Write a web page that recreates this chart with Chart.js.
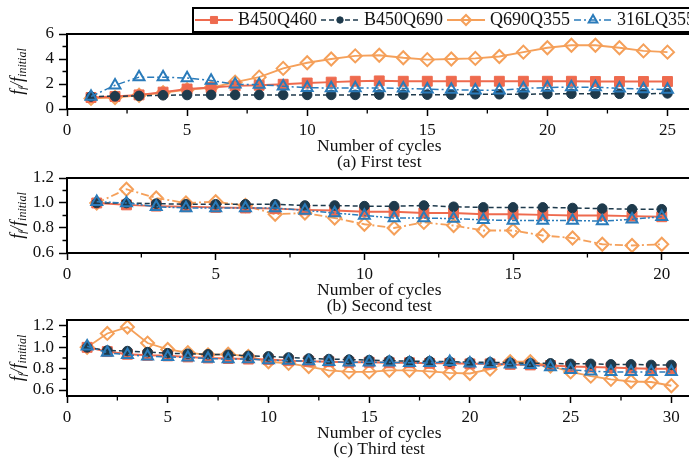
<!DOCTYPE html>
<html>
<head>
<meta charset="utf-8">
<script src="https://cdn.jsdelivr.net/npm/chart.js@4/dist/chart.umd.min.js"></script>
<style>
  html, body { margin: 0; padding: 0; background: #fff; overflow: hidden; width: 689px; height: 463px; }
  canvas { position: absolute; left: 0; }
</style>
</head>
<body>
<canvas id="c1" width="700" height="172" style="top:0px;width:700px;height:172px"></canvas>
<canvas id="c2" width="700" height="154" style="top:162px;width:700px;height:154px"></canvas>
<canvas id="c3" width="700" height="155" style="top:304px;width:700px;height:155px"></canvas>
<script>
// series names
const seriesNames = ['B450Q460', 'B450Q690', 'Q690Q355', '316LQ355'];

// (a) First test
const cycles1 = [1,2,3,4,5,6,7,8,9,10,11,12,13,14,15,16,17,18,19,20,21,22,23,24,25];
const first_B450Q460 = [0.92,1.0,1.13,1.35,1.6,1.72,1.85,1.9,1.98,2.08,2.15,2.22,2.25,2.22,2.22,2.22,2.22,2.22,2.22,2.22,2.22,2.2,2.2,2.2,2.2];
const first_B450Q690 = [1.0,1.02,1.05,1.1,1.12,1.13,1.13,1.13,1.13,1.13,1.13,1.13,1.15,1.15,1.15,1.15,1.18,1.18,1.18,1.2,1.22,1.22,1.22,1.22,1.25];
const first_Q690Q355 = [0.85,0.92,1.1,1.3,1.55,1.7,2.15,2.55,3.25,3.7,4.0,4.25,4.3,4.1,3.95,4.0,4.05,4.2,4.55,4.9,5.1,5.1,4.9,4.65,4.55];
const first_316LQ355 = [1.0,1.9,2.55,2.55,2.48,2.28,1.98,1.95,1.82,1.7,1.68,1.68,1.68,1.65,1.58,1.55,1.5,1.5,1.65,1.72,1.75,1.75,1.65,1.6,1.55];

// (b) Second test
const cycles2 = [1,2,3,4,5,6,7,8,9,10,11,12,13,14,15,16,17,18,19,20];
const second_B450Q460 = [1.0,0.985,0.975,0.97,0.965,0.96,0.955,0.945,0.94,0.93,0.93,0.92,0.92,0.91,0.91,0.905,0.9,0.9,0.895,0.89];
const second_B450Q690 = [1.0,1.0,0.995,0.99,0.99,0.99,0.99,0.98,0.98,0.975,0.975,0.98,0.97,0.965,0.965,0.965,0.96,0.955,0.95,0.95];
const second_Q690Q355 = [1.0,1.11,1.04,1.0,1.01,0.98,0.91,0.92,0.88,0.83,0.8,0.845,0.82,0.78,0.78,0.74,0.72,0.67,0.66,0.67];
const second_316LQ355 = [1.01,1.0,0.97,0.96,0.96,0.96,0.96,0.94,0.92,0.9,0.88,0.88,0.875,0.865,0.86,0.86,0.86,0.855,0.87,0.89];

// (c) Third test
const cycles3 = [1,2,3,4,5,6,7,8,9,10,11,12,13,14,15,16,17,18,19,20,21,22,23,24,25,26,27,28,29,30];
const third_B450Q460 = [1.0,0.96,0.935,0.925,0.92,0.91,0.9,0.895,0.89,0.885,0.875,0.87,0.865,0.86,0.86,0.855,0.855,0.85,0.85,0.845,0.845,0.84,0.835,0.83,0.82,0.815,0.81,0.805,0.8,0.8];
const third_B450Q690 = [1.0,0.97,0.965,0.955,0.945,0.94,0.935,0.93,0.92,0.915,0.905,0.895,0.89,0.885,0.88,0.875,0.87,0.87,0.865,0.86,0.86,0.855,0.85,0.85,0.845,0.845,0.84,0.84,0.835,0.835];
const third_Q690Q355 = [1.0,1.13,1.19,1.04,0.98,0.95,0.93,0.935,0.915,0.865,0.85,0.82,0.785,0.77,0.77,0.785,0.785,0.775,0.76,0.755,0.795,0.865,0.865,0.825,0.77,0.73,0.7,0.68,0.675,0.64];
const third_316LQ355 = [1.01,0.95,0.93,0.915,0.91,0.905,0.895,0.89,0.89,0.88,0.875,0.87,0.865,0.86,0.86,0.86,0.855,0.855,0.865,0.85,0.845,0.84,0.835,0.815,0.79,0.775,0.77,0.77,0.77,0.77];

// tick labels
const xTicks1 = [0,5,10,15,20,25];
const xTicks2 = [0,5,10,15,20];
const xTicks3 = [0,5,10,15,20,25,30];
const xMinor1 = [2.5,7.5,12.5,17.5,22.5];
const xMinor2 = [2.5,7.5,12.5,17.5];
const xMinor3 = [2.5,7.5,12.5,17.5,22.5,27.5];
const yTicks1 = [0,2,4,6];
const yMinor1 = [1,3,5];
const yTicks23 = [0.6,0.8,1.0,1.2];
const yMinor23 = [0.7,0.9,1.1];

const panelTitles = ['(a) First test', '(b) Second test', '(c) Third test'];

const FONT = "'Liberation Serif', 'Times New Roman', serif";
Chart.defaults.font.family = FONT;
Chart.defaults.color = '#111';

const red = '#EE6A4E', dark = '#1E3A4C', orange = '#F5A05A', blue = '#2A7BBA';

function toXY(xs, ys) {
  return xs.map((x, i) => ({ x: x, y: ys[i] }));
}

function makeDatasets(xs, a, b, c, d, orangeDash, blueDash) {
  return [
    { label: seriesNames[0], data: toXY(xs, a), borderColor: red, borderWidth: 2, borderDash: [],
      pointStyle: 'rect', pointRadius: 7, pointBackgroundColor: red, pointBorderColor: red, pointBorderWidth: 1, order: 2 },
    { label: seriesNames[1], data: toXY(xs, b), borderColor: dark, borderWidth: 1.5, borderDash: [5, 3],
      pointStyle: 'circle', pointRadius: 4.8, pointBackgroundColor: dark, pointBorderColor: dark, pointBorderWidth: 1, order: 1 },
    { label: seriesNames[2], data: toXY(xs, c), borderColor: orange, borderWidth: 1.8, borderDash: orangeDash,
      pointStyle: 'rectRot', pointRadius: 6.5, pointBackgroundColor: 'rgba(0,0,0,0)', pointBorderColor: orange, pointBorderWidth: 2, order: 3 },
    { label: seriesNames[3], data: toXY(xs, d), borderColor: blue, borderWidth: 1.5, borderDash: blueDash,
      pointStyle: 'triangle', pointRadius: 6.3, pointBackgroundColor: 'rgba(0,0,0,0)', pointBorderColor: blue, pointBorderWidth: 2, order: 0 }
  ];
}

// frame, minor ticks and y title with subscripts
const panelDeco = {
  id: 'panelDeco',
  afterDraw(chart, args, opts) {
    const ctx = chart.ctx, a = chart.chartArea;
    const xs = chart.scales.x, ys = chart.scales.y;
    ctx.save();
    ctx.strokeStyle = '#000';
    ctx.lineWidth = 2;
    ctx.strokeRect(a.left, a.top, a.right - a.left, a.bottom - a.top);
    ctx.lineWidth = 1.3;
    ctx.beginPath();
    opts.xMinor.forEach(v => {
      const px = xs.getPixelForValue(v);
      ctx.moveTo(px, a.bottom); ctx.lineTo(px, a.bottom + 4.5);
    });
    opts.yMinor.forEach(v => {
      const py = ys.getPixelForValue(v);
      ctx.moveTo(a.left, py); ctx.lineTo(a.left - 4.5, py);
    });
    ctx.stroke();

    // y title  f_f / f_initial
    const parts = [['f', 18, 0], ['f', 10, 5], ['/', 18, 0], ['f', 18, 0], ['initial', 12, 5]];
    let total = 0;
    parts.forEach(p => { ctx.font = 'italic ' + p[1] + 'px ' + FONT; total += ctx.measureText(p[0]).width; });
    ctx.translate(19, (a.top + a.bottom) / 2);
    ctx.rotate(-Math.PI / 2);
    ctx.fillStyle = '#111';
    ctx.textBaseline = 'middle';
    let x = -total / 2;
    parts.forEach(p => {
      ctx.font = 'italic ' + p[1] + 'px ' + FONT;
      ctx.fillText(p[0], x, p[2] - 1);
      x += ctx.measureText(p[0]).width;
    });
    ctx.restore();
  }
};

// boxed legend on top of the first panel
const legendRadius = [5, 3.2, 5, 5];
const boxLegend = {
  id: 'boxLegend',
  afterDraw(chart) {
    const ctx = chart.ctx;
    ctx.save();
    ctx.fillStyle = '#fff';
    ctx.fillRect(193, 8, 520, 24);
    ctx.lineWidth = 2;
    ctx.strokeStyle = '#000';
    ctx.strokeRect(193, 8, 520, 24);
    ctx.font = '18px ' + FONT;
    ctx.textBaseline = 'middle';
    let x = 195;
    const y = 20;
    chart.data.datasets.forEach((ds, i) => {
      ctx.strokeStyle = ds.borderColor;
      ctx.lineWidth = ds.borderWidth;
      ctx.setLineDash(ds.borderDash);
      ctx.beginPath(); ctx.moveTo(x, y); ctx.lineTo(x + 38, y); ctx.stroke();
      ctx.setLineDash([]);
      ctx.fillStyle = ds.pointBackgroundColor;
      ctx.strokeStyle = ds.pointBorderColor;
      ctx.lineWidth = ds.pointBorderWidth;
      Chart.helpers.drawPoint(ctx, { pointStyle: ds.pointStyle, radius: legendRadius[i], rotation: 0, borderWidth: ds.pointBorderWidth }, x + 19, y);
      ctx.fillStyle = '#111';
      ctx.fillText(ds.label, x + 43, y + 0.5);
      x += 43 + ctx.measureText(ds.label).width + 4;
    });
    ctx.restore();
  }
};

function makePanel(id, datasets, opt) {
  const plugins = [panelDeco];
  if (opt.legend) plugins.push(boxLegend);
  return new Chart(document.getElementById(id), {
    type: 'line',
    data: { datasets: datasets },
    plugins: plugins,
    options: {
      responsive: false,
      animation: false,
      devicePixelRatio: 1,
      layout: { padding: { top: opt.top, right: 5, bottom: 0, left: 0 } },
      plugins: {
        legend: { display: false },
        tooltip: { enabled: false },
        panelDeco: { xMinor: opt.xMinor, yMinor: opt.yMinor }
      },
      scales: {
        x: {
          type: 'linear', min: 0, max: opt.xMax,
          afterBuildTicks: s => { s.ticks = opt.xTicks.map(v => ({ value: v })); },
          afterFit: s => { s.height = 63; },
          grid: { drawOnChartArea: false, tickLength: 7, tickWidth: 1.5, tickColor: '#000' },
          border: { display: false },
          ticks: { font: { size: 17 }, padding: 4, maxRotation: 0, autoSkip: false },
          title: { display: true, text: ['Number of cycles', opt.title], font: { size: 17.5, lineHeight: '16px' }, padding: { top: 0, bottom: 2 } }
        },
        y: {
          min: opt.yMin, max: opt.yMax,
          afterBuildTicks: s => { s.ticks = opt.yTicks.map(v => ({ value: v })); },
          afterFit: s => { s.width = 67; },
          grid: { drawOnChartArea: false, tickLength: 8, tickWidth: 1.5, tickColor: '#000' },
          border: { display: false },
          ticks: { font: { size: 17 }, padding: 5, callback: v => opt.yDigits ? v.toFixed(opt.yDigits) : String(v) }
        }
      }
    }
  });
}

makePanel('c1', makeDatasets(cycles1, first_B450Q460, first_B450Q690, first_Q690Q355, first_316LQ355, [], [7, 3, 2, 3]), {
  legend: true, top: 34, xMax: 26, xTicks: xTicks1, xMinor: xMinor1,
  yMin: 0, yMax: 6, yTicks: yTicks1, yMinor: yMinor1, yDigits: 0, title: panelTitles[0]
});
makePanel('c2', makeDatasets(cycles2, second_B450Q460, second_B450Q690, second_Q690Q355, second_316LQ355, [8, 3, 2, 3], [6, 2, 2, 2, 2, 2]), {
  legend: false, top: 16, xMax: 21, xTicks: xTicks2, xMinor: xMinor2,
  yMin: 0.6, yMax: 1.2, yTicks: yTicks23, yMinor: yMinor23, yDigits: 1, title: panelTitles[1]
});
makePanel('c3', makeDatasets(cycles3, third_B450Q460, third_B450Q690, third_Q690Q355, third_316LQ355, [], [6, 3, 2, 3]), {
  legend: false, top: 16, xMax: 31, xTicks: xTicks3, xMinor: xMinor3,
  yMin: 0.544, yMax: 1.256, yTicks: yTicks23, yMinor: yMinor23, yDigits: 1, title: panelTitles[2]
});
</script>
</body>
</html>
